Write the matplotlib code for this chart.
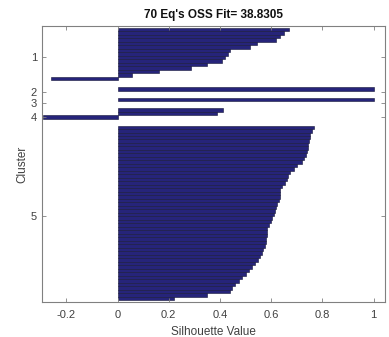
import numpy as np
import matplotlib
matplotlib.use('Agg')
import matplotlib.pyplot as plt

plt.rcParams['font.family'] = ['Liberation Sans', 'DejaVu Sans']

title = "70 Eq's OSS Fit= 38.8305"
cluster_names = ['1', '2', '3', '4', '5']

# silhouette values per cluster, sorted descending (as MATLAB silhouette draws them)
s1 = [0.668, 0.65, 0.636, 0.617, 0.545, 0.518, 0.44, 0.43, 0.42, 0.408,
      0.35, 0.287, 0.16, 0.056, -0.26]
s2 = [1.0]
s3 = [1.0]
s4 = [0.41, 0.39, -0.29]
s5 = [0.768, 0.76, 0.753, 0.75, 0.748, 0.745, 0.742, 0.74, 0.735, 0.728,
      0.72, 0.70, 0.688, 0.675, 0.665, 0.66, 0.655, 0.642, 0.636, 0.636,
      0.635, 0.63, 0.623, 0.618, 0.615, 0.61, 0.605, 0.60, 0.59, 0.584,
      0.583, 0.582, 0.58, 0.578, 0.575, 0.57, 0.564, 0.557, 0.55, 0.538,
      0.525, 0.512, 0.50, 0.486, 0.473, 0.46, 0.447, 0.44, 0.35, 0.22]
clusters = [s1, s2, s3, s4, s5]

space = 2
bars = [np.nan] * space
tcks = []
for c in clusters:
    bars += list(c) + [np.nan] * space
    tcks.append(len(bars) - 0.5 * (len(c) + space) + 0.5)
bars = np.array(bars)
ypos = np.arange(1, len(bars) + 1)

fig = plt.figure(figsize=(3.89, 3.37), dpi=100)
ax = fig.add_axes([0.108, 0.104, 0.882, 0.819])

ok = ~np.isnan(bars)
ax.barh(ypos[ok], bars[ok], height=1.0, color='#26247a',
        edgecolor='#141438', linewidth=0.4)

ax.set_xlim(-0.295, 1.045)
ax.set_ylim(len(bars) - 1, 2)
ax.set_yticks(tcks)
ax.set_yticklabels(cluster_names)
ax.set_xticks([-0.2, 0, 0.2, 0.4, 0.6, 0.8, 1])
ax.set_xticklabels(['-0.2', '0', '0.2', '0.4', '0.6', '0.8', '1'])

gray = '#404040'
for sp in ax.spines.values():
    sp.set_color('#808080')
    sp.set_linewidth(0.8)
ax.tick_params(direction='in', length=3, width=0.6, colors='#808080',
               labelcolor=gray, labelsize=8, top=True, right=True)
ax.tick_params(axis='x', pad=6)

ax.set_xlabel('Silhouette Value', fontsize=8.5, color=gray, labelpad=4)
ax.set_ylabel('Cluster', fontsize=8.5, color=gray, labelpad=2)
ax.set_title(title, fontsize=8.5, fontweight='bold', color='#111111', pad=6)

fig.savefig('out.png', dpi=100)
